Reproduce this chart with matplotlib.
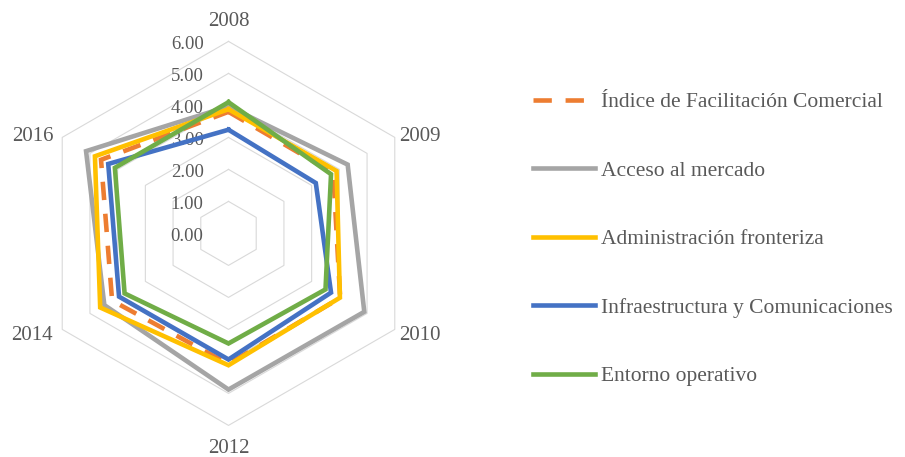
import numpy as np
import matplotlib
matplotlib.use('Agg')
import matplotlib.pyplot as plt

# ---------------- data ----------------
categories = ['2008', '2009', '2010', '2012', '2014', '2016']
series_names = ['Índice de Facilitación Comercial', 'Acceso al mercado',
                'Administración fronteriza', 'Infraestructura y Comunicaciones',
                'Entorno operativo']
indice = [3.80, 3.78, 4.03, 4.08, 4.20, 4.60]
acceso = [3.97, 4.30, 4.90, 4.88, 4.48, 5.14]
administracion = [3.88, 3.90, 4.02, 4.12, 4.63, 4.82]
infraestructura = [3.24, 3.15, 3.70, 3.94, 3.95, 4.34]
entorno = [4.10, 3.70, 3.50, 3.44, 3.75, 4.10]
radial_ticks = [0, 1, 2, 3, 4, 5, 6]
radial_labels = ['0.00', '1.00', '2.00', '3.00', '4.00', '5.00', '6.00']

series = [indice, acceso, administracion, infraestructura, entorno]
colors = ['#ED7D31', '#A5A5A5', '#FFC000', '#4472C4', '#70AD47']
styles = [(0, (4, 3)), '-', '-', '-', '-']

TXT = '#595959'
FONT = 'Liberation Serif'

fig = plt.figure(figsize=(9.05, 4.57), dpi=100)
W, H = 905, 457
cx, cy, R = 228.5, 233.4, 192.0
ax = fig.add_axes([(cx - R) / W, (H - cy - R) / H, 2 * R / W, 2 * R / H],
                  projection='polar')
ax.set_theta_offset(np.pi / 2)
ax.set_theta_direction(-1)
ax.set_ylim(0, 6)
ax.set_axis_off()

n = len(categories)
theta = np.arange(n) * 2 * np.pi / n
theta_c = np.append(theta, theta[0])

# hexagonal grid
for r in radial_ticks[1:]:
    ax.plot(theta_c, [r] * (n + 1), color='#D9D9D9', lw=0.8, zorder=1,
            clip_on=False)

# series
handles = []
for vals, col, ls, name in zip(series, colors, styles, series_names):
    v = np.append(vals, vals[0])
    ln, = ax.plot(theta_c, v, color=col, lw=3.3, linestyle=ls, label=name,
                  solid_joinstyle='miter', dash_joinstyle='miter',
                  dash_capstyle='butt', zorder=3, clip_on=False)
    handles.append(ln)

# radial tick labels
for r, lab in zip(radial_ticks, radial_labels):
    ax.annotate(lab, xy=(0, r), xytext=(-25, -3), textcoords='offset pixels',
                ha='right', va='center', fontsize=13.5, family=FONT, color=TXT,
                zorder=2)

# category labels
offsets = [((0, 20), 'center'), ((4, 1), 'left'), ((4, -6), 'left'),
           ((0, -23), 'center'), ((-9, -6), 'right'), ((-9, 1), 'right')]
for t, cat, (off, ha) in zip(theta, categories, offsets):
    ax.annotate(cat, xy=(t, 6), xytext=off, textcoords='offset pixels',
                ha=ha, va='center', fontsize=15, family=FONT, color=TXT)

leg = fig.legend(handles, series_names, loc='upper left',
                 bbox_to_anchor=(533 / W, 1 - 92 / H), frameon=False,
                 borderpad=0, borderaxespad=0, handlelength=2.9,
                 handletextpad=0.25, labelspacing=2.25,
                 prop={'family': FONT, 'size': 15.5})
for t in leg.get_texts():
    t.set_color(TXT)

fig.savefig('out.png', dpi=100)
